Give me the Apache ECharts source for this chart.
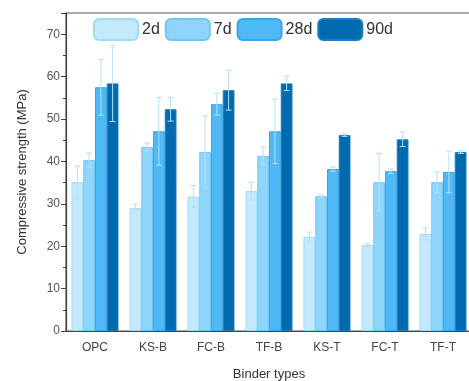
<!DOCTYPE html>
<html>
<head>
<meta charset="utf-8">
<style>
body { margin: 0; background: #fff; }
#chart { width: 469px; height: 381px; }
</style>
<script src="https://cdn.jsdelivr.net/npm/echarts@6/dist/echarts.min.js"></script>
</head>
<body>
<div id="chart"></div>
<script>
const categories = ["OPC", "KS-B", "FC-B", "TF-B", "KS-T", "FC-T", "TF-T"];
const ages = ["2d", "7d", "28d", "90d"];
const mean2d = [35.1, 29.0, 31.7, 33.0, 22.2, 20.3, 22.9];
const mean7d = [40.3, 43.4, 42.2, 41.3, 31.8, 35.1, 35.1];
const mean28d = [57.5, 47.1, 53.5, 47.1, 38.2, 37.7, 37.5];
const mean90d = [58.4, 52.3, 56.8, 58.4, 46.2, 45.2, 42.2];
const err2d = [3.8, 0.9, 2.6, 2.1, 1.1, 0.3, 1.4];
const err7d = [1.7, 0.9, 8.5, 2.1, 0.3, 6.8, 2.4];
const err28d = [6.6, 8.0, 2.6, 7.6, 0.5, 0.5, 4.9];
const err90d = [9.0, 2.8, 4.7, 1.7, 0.3, 1.7, 0.3];

const means = [mean2d, mean7d, mean28d, mean90d];
const errs = [err2d, err7d, err28d, err90d];
const fills = ["#c4e9fc", "#8fd4fa", "#4fb9f5", "#006aae"];
const borders = ["#9fdaf7", "#74c6f2", "#3aa6e8", "#1b7cbf"];
const catGap = 0.19;

const chart = echarts.init(document.getElementById("chart"), null, { renderer: "canvas" });

const series = [];
ages.forEach((age, i) => {
  series.push({
    name: age,
    type: "bar",
    data: means[i],
    barGap: "0%",
    barCategoryGap: (catGap * 100) + "%",
    itemStyle: { color: fills[i], borderColor: borders[i], borderWidth: 1 },
    z: 2
  });
});
ages.forEach((age, i) => {
  series.push({
    name: age + " err",
    type: "custom",
    z: 5,
    silent: true,
    data: categories.map((c, k) => [k, means[i][k] - errs[i][k], means[i][k] + errs[i][k]]),
    renderItem: function (params, api) {
      const k = api.value(0);
      const band = api.size([1, 0])[0];
      const bw = band * (1 - catGap) / 4;
      const lo = api.coord([k, api.value(1)]);
      const hi = api.coord([k, api.value(2)]);
      const x = lo[0] + (i - 1.5) * bw;
      const cap = 3;
      const style = { stroke: "#b3e1f7", lineWidth: 1 };
      return {
        type: "group",
        children: [
          { type: "line", shape: { x1: x, y1: lo[1], x2: x, y2: hi[1] }, style },
          { type: "line", shape: { x1: x - cap, y1: hi[1], x2: x + cap, y2: hi[1] }, style },
          { type: "line", shape: { x1: x - cap, y1: lo[1], x2: x + cap, y2: lo[1] }, style }
        ]
      };
    }
  });
});

chart.setOption({
  animation: false,
  textStyle: { fontFamily: "Liberation Sans, Arial, sans-serif" },
  grid: {
    left: 66, top: 13, right: -3, bottom: 50,
    containLabel: false, outerBoundsMode: "none",
    show: true, borderColor: "#555", borderWidth: 1.2
  },
  legend: {
    data: ages,
    left: 93, top: 18, padding: 0,
    itemWidth: 44, itemHeight: 21, itemGap: 5,
    icon: "roundRect",
    textStyle: { fontSize: 16, color: "#333", padding: [0, 0, 0, -1] }
  },
  xAxis: {
    type: "category",
    data: categories,
    name: "Binder types",
    nameLocation: "middle",
    nameGap: 37,
    nameTextStyle: { fontSize: 13, color: "#333" },
    axisLine: { lineStyle: { color: "#444", width: 1.2 } },
    axisTick: { alignWithLabel: true, length: 4, lineStyle: { color: "#444" } },
    axisLabel: { fontSize: 12, color: "#444", margin: 11 }
  },
  yAxis: {
    type: "value",
    min: 0, max: 75, interval: 10,
    name: "Compressive strength (MPa)",
    nameLocation: "middle",
    nameGap: 37,
    nameTextStyle: { fontSize: 13, color: "#333" },
    axisLine: { show: true, lineStyle: { color: "#444", width: 1.2 } },
    axisTick: { show: true, length: 5, lineStyle: { color: "#444" } },
    minorTick: { show: true, splitNumber: 2, length: 3, lineStyle: { color: "#444" } },
    splitLine: { show: false },
    axisLabel: { fontSize: 12, color: "#555", margin: 6, showMaxLabel: false }
  },
  series: series
});
</script>
</body>
</html>
